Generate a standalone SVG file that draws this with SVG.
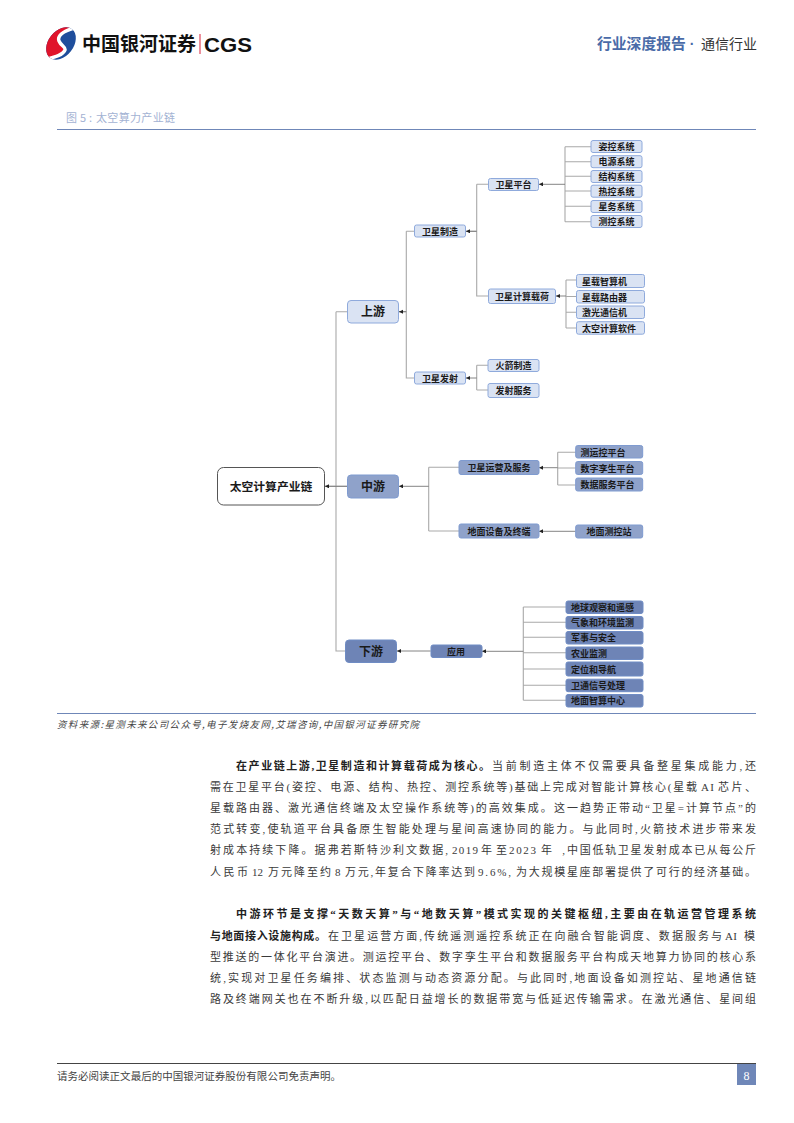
<svg xmlns="http://www.w3.org/2000/svg" width="794" height="1123" viewBox="0 0 794 1123">
<style>
text{font-family:"Noto Sans CJK SC","Liberation Sans",sans-serif}
.n{text-anchor:middle;font-weight:700;fill:#1a1a1a;font-size:9px}
.l1{font-size:12px}
.lt{fill:#dae3f3;stroke:#8faadc;stroke-width:1}
.md{fill:#8fa2ca;stroke:#7f9bd0;stroke-width:1}
.dk{fill:#6e84b6;stroke:#6f8cc4;stroke-width:1}
.c{fill:none;stroke:#a9a9a9;stroke-width:1.100}
.a{fill:none;stroke:#777;stroke-width:.9;marker-end:url(#ah)}
.b{font-family:"Liberation Serif","Noto Sans CJK SC",serif;font-size:11px;fill:#3a3a3a}
.bb{font-family:"Liberation Serif","Noto Sans CJK SC",serif;font-size:11px;fill:#222;font-weight:700}
</style>
<defs>
<marker id="ah" markerWidth="5" markerHeight="5" refX="4" refY="2" orient="auto" markerUnits="userSpaceOnUse"><path d="M0 0L4 2L0 4z" fill="#222"/></marker>
<clipPath id="oval"><ellipse cx="61" cy="43.500" rx="12.500" ry="18" transform="rotate(38 61 43.500)"/></clipPath>
</defs>
<rect width="794" height="1123" fill="#fff"/>
<g id="logo">
<g clip-path="url(#oval)">
<rect x="40" y="24" width="44" height="40" fill="#1f4e9c"/>
<path d="M74 27C62 30 56 36 58 41C60 46 65 47 64 50C62 55 54 58 42 61L40 24Z" fill="#e0142b"/>
<path d="M74 28C63 31 57 36 59 41C61 46 66 47 65 50C63 55 55 57 44 60" fill="none" stroke="#fff" stroke-width="3.400"/>
</g>
<text x="82" y="51" font-size="19" font-weight="700" fill="#111">中国银河证券</text>
<rect x="199.500" y="34" width="1" height="20" fill="#d9233a"/>
<text x="204" y="51.500" font-size="21" font-weight="700" fill="#111" style="font-family:'Liberation Sans',sans-serif" textLength="48" lengthAdjust="spacingAndGlyphs">CGS</text>
</g>
<g id="header-right">
<text x="597" y="49" font-size="14.800" font-weight="700" fill="#4a6ba8">行业深度报告</text>
<text x="692" y="49" font-size="14" font-weight="700" fill="#4a6ba8" text-anchor="middle" style="font-family:'Liberation Sans',sans-serif">·</text>
<text x="701" y="49" font-size="14" fill="#333">通信行业</text>
</g>
<g id="caption" font-size="11" fill="#a3b2d3">
<text x="66" y="122" textLength="26">图5:</text>
<text x="96" y="122" textLength="79">太空算力产业链</text>
</g>
<line x1="57" y1="129.500" x2="756" y2="129.500" stroke="#6f87b8"/>
<g id="connectors">
<path class="c" d="M336 311.700H347M336 311.700V651H345M325 486.300H347"/>
<path class="a" d="M347 486.300H325"/>
<path class="c" d="M406.300 231.300H414M406.300 231.300V378H414M398.500 311.700H406.300"/>
<path class="a" d="M406.300 311.700H399"/>
<path class="c" d="M476.700 184.300H488M476.700 184.300V296H488M465.500 231.300H476.700"/>
<path class="a" d="M476.700 231.300H466"/>
<path class="c" d="M565 146.700H591M565 161.700H591M565 176.300H591M565 191H591M565 206.300H591M565 221.700H591M565 146.700V221.700"/>
<path class="a" d="M565 184.300H539"/>
<path class="c" d="M566 280H576M566 296.500H576M566 312.300H576M566 328H576M566 280V328"/>
<path class="a" d="M566 296H556"/>
<path class="c" d="M476.700 365.300H488M476.700 390H488M476.700 365.300V390"/>
<path class="a" d="M476.700 378H466"/>
<path class="c" d="M428.700 467.300H459M428.700 531H459M428.700 467.300V531"/>
<path class="a" d="M428.700 486.300H399"/>
<path class="c" d="M557.700 452.300H576M557.700 468H576M557.700 485H576M557.700 452.300V485"/>
<path class="a" d="M557.700 467.700H539"/>
<path class="a" d="M575.700 531.300H539"/>
<path class="a" d="M430.700 651H397"/>
<path class="c" d="M523.300 607H566M523.300 622.300H566M523.300 637.300H566M523.300 652.700H566M523.300 669H566M523.300 685.300H566M523.300 700.300H566M523.300 607V700.300"/>
<path class="a" d="M523.300 651.300H482"/>
</g>
<g id="n-root"><rect x="217.500" y="467.500" width="107" height="37.500" rx="6" fill="#fff" stroke="#555"/><text class="n" style="font-size:11.800px" x="271" y="490.500">太空计算产业链</text></g>
<g id="n-up"><rect class="lt" x="347.500" y="300.500" width="51" height="22.500" rx="3.500"/><text class="n l1" x="373" y="316.300">上游</text></g>
<g id="n-mid"><rect class="md" x="347.500" y="475" width="51" height="23" rx="3.500"/><text class="n l1" x="373" y="491">中游</text></g>
<g id="n-down"><rect class="dk" x="345.500" y="640" width="51" height="22.500" rx="3.500"/><text class="n l1" x="371" y="656">下游</text></g>
<g id="n-mfg"><rect class="lt" x="414.500" y="225" width="51" height="12" rx="2"/><text class="n" x="440" y="234.500">卫星制造</text></g>
<g id="n-launch"><rect class="lt" x="414.500" y="372" width="51" height="12" rx="2"/><text class="n" x="440" y="381.500">卫星发射</text></g>
<g id="n-plat"><rect class="lt" x="488.500" y="178.500" width="50" height="12" rx="2"/><text class="n" x="513.500" y="188">卫星平台</text></g>
<g id="n-load"><rect class="lt" x="488.500" y="289" width="67" height="14.500" rx="2"/><text class="n" x="522" y="299.500">卫星计算载荷</text></g>
<g id="n-s1"><rect class="lt" x="591" y="140.500" width="51" height="12" rx="2"/><text class="n" x="616.500" y="150">姿控系统</text></g>
<g id="n-s2"><rect class="lt" x="591" y="155.700" width="51" height="12" rx="2"/><text class="n" x="616.500" y="165">电源系统</text></g>
<g id="n-s3"><rect class="lt" x="591" y="170.500" width="51" height="12" rx="2"/><text class="n" x="616.500" y="180">结构系统</text></g>
<g id="n-s4"><rect class="lt" x="591" y="185.200" width="51" height="12" rx="2"/><text class="n" x="616.500" y="194.500">热控系统</text></g>
<g id="n-s5"><rect class="lt" x="591" y="200.500" width="51" height="12" rx="2"/><text class="n" x="616.500" y="210">星务系统</text></g>
<g id="n-s6"><rect class="lt" x="591" y="215.500" width="51" height="12" rx="2"/><text class="n" x="616.500" y="225">测控系统</text></g>
<g id="n-p1"><rect class="lt" x="576.500" y="274.500" width="68" height="13" rx="2"/><text class="n" x="582" y="284.500" style="text-anchor:start">星载智算机</text></g>
<g id="n-p2"><rect class="lt" x="576.500" y="290.500" width="68" height="12.500" rx="2"/><text class="n" x="582" y="300.500" style="text-anchor:start">星载路由器</text></g>
<g id="n-p3"><rect class="lt" x="576.500" y="306" width="68" height="12.500" rx="2"/><text class="n" x="582" y="316" style="text-anchor:start">激光通信机</text></g>
<g id="n-p4"><rect class="lt" x="576.500" y="321.700" width="68" height="12.500" rx="2"/><text class="n" x="582" y="331.500" style="text-anchor:start">太空计算软件</text></g>
<g id="n-r1"><rect class="lt" x="488" y="359.500" width="51" height="12" rx="2"/><text class="n" x="513.500" y="369">火箭制造</text></g>
<g id="n-r2"><rect class="lt" x="488" y="383.500" width="51" height="14" rx="2"/><text class="n" x="513.500" y="394">发射服务</text></g>
<g id="n-ops"><rect class="md" x="459" y="460.500" width="80" height="14" rx="2"/><text class="n" x="499" y="471">卫星运营及服务</text></g>
<g id="n-gnd"><rect class="md" x="459" y="524" width="80" height="14" rx="2"/><text class="n" x="499" y="534.500">地面设备及终端</text></g>
<g id="n-m1"><rect class="md" x="575.700" y="445.500" width="67" height="12.500" rx="2"/><text class="n" x="603" y="455.500">测运控平台</text></g>
<g id="n-m2"><rect class="md" x="575.700" y="461.500" width="67" height="13" rx="2"/><text class="n" x="607.500" y="471.500">数字孪生平台</text></g>
<g id="n-m3"><rect class="md" x="575.700" y="478" width="67" height="13" rx="2"/><text class="n" x="607.500" y="488">数据服务平台</text></g>
<g id="n-m4"><rect class="md" x="575.700" y="525" width="67" height="13" rx="2"/><text class="n" x="609" y="535">地面测控站</text></g>
<g id="n-app"><rect class="dk" x="431" y="645" width="51" height="12.500" rx="2"/><text class="n" x="456" y="654.700">应用</text></g>
<g id="n-d1"><rect class="dk" x="566" y="601" width="77" height="12.500" rx="2"/><text class="n" x="571" y="610.700" style="text-anchor:start">地球观察和遥感</text></g>
<g id="n-d2"><rect class="dk" x="566" y="616.500" width="77" height="12.500" rx="2"/><text class="n" x="571" y="626" style="text-anchor:start">气象和环境监测</text></g>
<g id="n-d3"><rect class="dk" x="566" y="631.500" width="77" height="12.500" rx="2"/><text class="n" x="571" y="641" style="text-anchor:start">军事与安全</text></g>
<g id="n-d4"><rect class="dk" x="566" y="647" width="77" height="12.500" rx="2"/><text class="n" x="571" y="656.500" style="text-anchor:start">农业监测</text></g>
<g id="n-d5"><rect class="dk" x="566" y="662" width="77" height="14" rx="2"/><text class="n" x="571" y="672.500" style="text-anchor:start">定位和导航</text></g>
<g id="n-d6"><rect class="dk" x="566" y="679.200" width="77" height="12.500" rx="2"/><text class="n" x="571" y="689" style="text-anchor:start">卫通信号处理</text></g>
<g id="n-d7"><rect class="dk" x="566" y="694.500" width="77" height="12.500" rx="2"/><text class="n" x="571" y="704" style="text-anchor:start">地面智算中心</text></g>
<line x1="57" y1="713.500" x2="756" y2="713.500" stroke="#6f87b8"/>
<text id="source" x="57" y="728" font-size="9.500" font-style="italic" fill="#444" textLength="362" lengthAdjust="spacing">资料来源:星测未来公司公众号,电子发烧友网,艾瑞咨询,中国银河证券研究院</text>
<g id="body">
<text class="bb" x="236" y="770" textLength="254">在产业链上游,卫星制造和计算载荷成为核心。</text>
<text class="b" x="492" y="770" textLength="264">当前制造主体不仅需要具备整星集成能力,还</text>
<text class="b" x="210" y="791" textLength="487">需在卫星平台(姿控、电源、结构、热控、测控系统等)基础上完成对智能计算核心(星载</text>
<text class="b" x="701" y="791" textLength="13">AI</text>
<text class="b" x="718" y="791" textLength="38">芯片、</text>
<text class="b" x="210" y="812" textLength="546">星载路由器、激光通信终端及太空操作系统等)的高效集成。这一趋势正带动“卫星=计算节点”的</text>
<text class="b" x="210" y="833" textLength="546">范式转变,使轨道平台具备原生智能处理与星间高速协同的能力。与此同时,火箭技术进步带来发</text>
<text class="b" x="210" y="854" textLength="238">射成本持续下降。据弗若斯特沙利文数据,</text>
<text class="b" x="452" y="854" textLength="26">2019</text>
<text class="b" x="481" y="854" textLength="26">年至</text>
<text class="b" x="509" y="854" textLength="27">2023</text>
<text class="b" x="541" y="854" textLength="24">年,</text>
<text class="b" x="567" y="854" textLength="189">中国低轨卫星发射成本已从每公斤</text>
<text class="b" x="210" y="875.500" textLength="38">人民币</text>
<text class="b" x="252" y="875.500" textLength="11">12</text>
<text class="b" x="268" y="875.500" textLength="63">万元降至约</text>
<text class="b" x="335" y="875.500" textLength="5.500">8</text>
<text class="b" x="345" y="875.500" textLength="130">万元,年复合下降率达到</text>
<text class="b" x="478" y="875.500" textLength="33">9.6%,</text>
<text class="b" x="516" y="875.500" textLength="240">为大规模星座部署提供了可行的经济基础。</text>
<text class="bb" x="236" y="918" textLength="520">中游环节是支撑“天数天算”与“地数天算”模式实现的关键枢纽,主要由在轨运营管理系统</text>
<text class="bb" x="210" y="939.500" textLength="116">与地面接入设施构成。</text>
<text class="b" x="328" y="939.500" textLength="394">在卫星运营方面,传统遥测遥控系统正在向融合智能调度、数据服务与</text>
<text class="b" x="725" y="939.500" textLength="12">AI</text>
<text class="b" x="744" y="939.500" textLength="12">模</text>
<text class="b" x="210" y="960.500" textLength="546">型推送的一体化平台演进。测运控平台、数字孪生平台和数据服务平台构成天地算力协同的核心系</text>
<text class="b" x="210" y="981.500" textLength="546">统,实现对卫星任务编排、状态监测与动态资源分配。与此同时,地面设备如测控站、星地通信链</text>
<text class="b" x="210" y="1003" textLength="546">路及终端网关也在不断升级,以匹配日益增长的数据带宽与低延迟传输需求。在激光通信、星间组</text>
</g>
<g id="footer">
<line x1="57" y1="1063.500" x2="756" y2="1063.500" stroke="#444"/>
<text x="57" y="1080" font-size="10.500" fill="#444" textLength="284">请务必阅读正文最后的中国银河证券股份有限公司免责声明。</text>
<rect x="737" y="1064" width="19" height="21" fill="#6f87b8"/>
<text x="746.500" y="1080" font-size="12" fill="#fff" text-anchor="middle" style="font-family:'Liberation Serif',serif">8</text>
</g>
</svg>
